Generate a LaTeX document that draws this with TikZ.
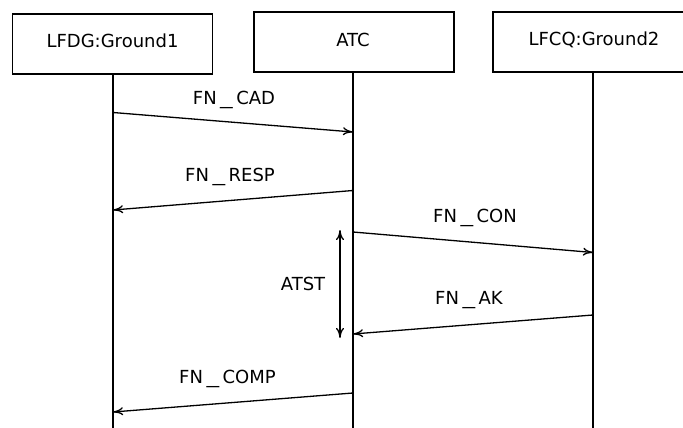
\documentclass[tikz,border=0pt]{standalone}
\usepackage{fontspec}
\setmainfont{DejaVu Sans}
\usetikzlibrary{arrows.meta}
\newcommand{\us}{\kern3.5pt\scalebox{1.4}[1]{\_}\kern3.5pt}
\begin{document}
\begin{tikzpicture}[x=1pt,y=-1pt,
  every node/.style={font=\fontsize{18}{21}\selectfont, inner sep=0pt},
  actor/.style={draw, line width=1.3pt, minimum width=200pt, minimum height=60pt},
  life/.style={line width=1.3pt},
  msg/.style={line width=1.3pt, -{To[length=10pt,width=8pt]}},
  span/.style={line width=1.3pt, {To[length=10pt,width=8pt]}-{To[length=10pt,width=8pt]}}]
\useasboundingbox (0,0) rectangle (683,428);
% actors
\node[actor] (g1)  at (112.5,44) {};
\node[actor] (atc) at (354,42) {};
\node[actor] (g2)  at (593,42) {};
\node (g1t)  at (112.5,41) {LFDG:Ground1};
\node (atct) at (353,40) {ATC};
\node (g2t)  at (594,39.5) {LFCQ:Ground2};
% lifeline ends
\coordinate (g1b)  at (113,428);
\coordinate (atcb) at (353,428);
\coordinate (g2b)  at (593,428);
\draw[life] (g1.south -| g1b) -- (g1b);
\draw[life] (atc.south -| atcb) -- (atcb);
\draw[life] (g2.south -| g2b) -- (g2b);
% message end points
\coordinate (cadA) at (113,112.5);
\coordinate (cadB) at (353,132);
\coordinate (respA) at (353,190.5);
\coordinate (respB) at (113,210);
\coordinate (conA) at (353,232);
\coordinate (conB) at (593,252.5);
\coordinate (akA) at (593,315);
\coordinate (akB) at (353,334);
\coordinate (compA) at (353,393);
\coordinate (compB) at (113,412);
\coordinate (atstA) at (340,230);
\coordinate (atstB) at (340,338);
% messages
\draw[msg] (cadA) -- (cadB);
\draw[msg] (respA) -- (respB);
\draw[msg] (conA) -- (conB);
\draw[msg] (akA) -- (akB);
\draw[msg] (compA) -- (compB);
\draw[span] (atstA) -- (atstB);
% labels
\node (cadl)  at (234,100) {FN\us CAD};
\node (respl) at (230,177) {FN\us RESP};
\node (conl)  at (475,218) {FN\us CON};
\node (akl)   at (469,300) {FN\us AK};
\node (compl) at (227.5,379) {FN\us COMP};
\node (atstl) at (303,284) {ATST};
\end{tikzpicture}
\end{document}
